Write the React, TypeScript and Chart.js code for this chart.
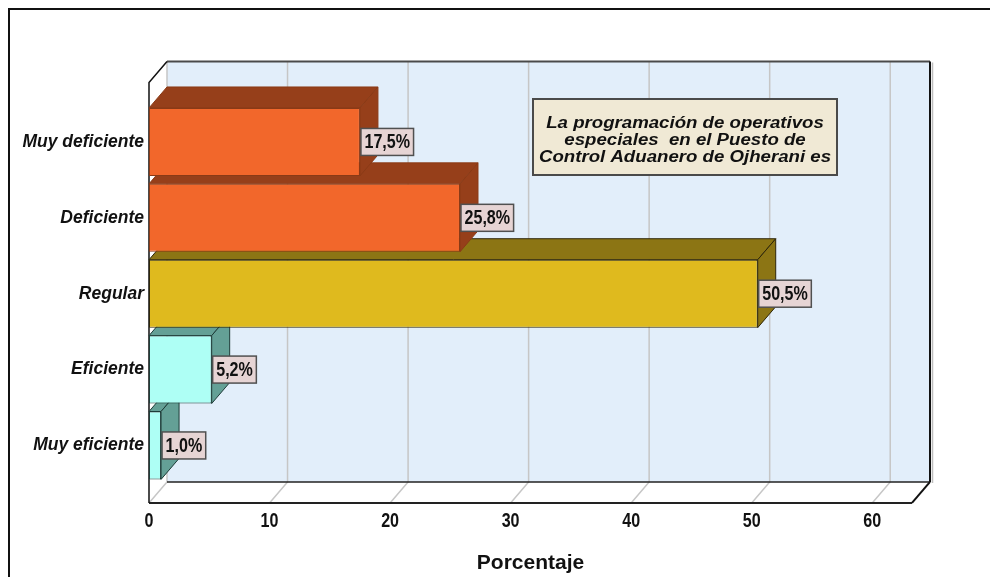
import { useEffect, useRef } from 'react';
import { Chart, registerables } from 'chart.js';

Chart.register(...registerables);

// Rating categories, listed top to bottom
const categories = ['Muy deficiente', 'Deficiente', 'Regular', 'Eficiente', 'Muy eficiente'];
// Share of answers for each rating (%)
const percentages = [17.5, 25.8, 50.5, 5.2, 1.0];
// Value axis ticks
const axisTicks = [0, 10, 20, 30, 40, 50, 60];
const axisMax = 63.3;

// Bar colours: front face, top/side faces, edges
const frontColors = ['#F2672B', '#F2672B', '#DFBA1E', '#AEFFF5', '#AEFFF5'];
const sideColors = ['#963F1A', '#963F1A', '#8C7514', '#64A096', '#64A096'];
const edgeColors = ['#8A3A16', '#8A3A16', '#2E2608', '#1E3C38', '#1E3C38'];

// Caption shown inside the plot
const noteLines = [
  'La programación de operativos',
  'especiales  en el Puesto de',
  'Control Aduanero de Ojherani es',
];

// 3D depth of the box and extra wall height around the category bands
const DX = 18;
const DY = 21;
const WALL_TOP = 21.5;
const WALL_BOTTOM = 19.5;

const SANS = '"Liberation Sans", Arial, sans-serif';
const SQUEEZE = 0.825; // condensed lettering for numbers
const NUM_FONT = `bold 19.5px ${SANS}`;

const pctLabel = (v: number) => v.toFixed(1).replace('.', ',') + '%';

type Pt = [number, number];

function poly(ctx: CanvasRenderingContext2D, pts: Pt[], fill?: string, stroke?: string, lw = 1) {
  ctx.beginPath();
  ctx.moveTo(pts[0][0], pts[0][1]);
  for (let i = 1; i < pts.length; i++) ctx.lineTo(pts[i][0], pts[i][1]);
  ctx.closePath();
  if (fill) {
    ctx.fillStyle = fill;
    ctx.fill();
  }
  if (stroke) {
    ctx.strokeStyle = stroke;
    ctx.lineWidth = lw;
    ctx.lineJoin = 'miter';
    ctx.stroke();
  }
}

function line(ctx: CanvasRenderingContext2D, pts: Pt[], color: string, lw: number) {
  ctx.beginPath();
  ctx.moveTo(pts[0][0], pts[0][1]);
  for (let i = 1; i < pts.length; i++) ctx.lineTo(pts[i][0], pts[i][1]);
  ctx.strokeStyle = color;
  ctx.lineWidth = lw;
  ctx.stroke();
}

function narrowText(ctx: CanvasRenderingContext2D, text: string, x: number, y: number) {
  ctx.save();
  ctx.translate(x, y);
  ctx.scale(SQUEEZE, 1);
  ctx.fillText(text, 0, 0);
  ctx.restore();
}

const box3d = {
  id: 'box3d',
  beforeDraw(chart: any) {
    const ctx: CanvasRenderingContext2D = chart.ctx;
    ctx.save();
    ctx.fillStyle = '#FFFFFF';
    ctx.fillRect(0, 0, chart.width, chart.height);
    // outer frame
    line(ctx, [[9, chart.height], [9, 9], [chart.width, 9]], '#111111', 2);
    ctx.restore();
  },
  beforeDatasetsDraw(chart: any) {
    const ctx: CanvasRenderingContext2D = chart.ctx;
    const a = chart.chartArea;
    const xs = chart.scales.x;
    const fl = a.left, fr = a.right, ft = a.top - WALL_TOP, fb = a.bottom + WALL_BOTTOM;
    const bl = fl + DX, br = fr + DX, bt = ft - DY, bb = fb - DY;
    ctx.save();

    // back wall
    ctx.fillStyle = '#E2EEFA';
    ctx.fillRect(bl, bt, br - bl, bb - bt);
    // floor and left wall
    poly(ctx, [[fl, fb], [bl, bb], [br, bb], [fr, fb]], '#FFFFFF');
    poly(ctx, [[fl, ft], [bl, bt], [bl, bb], [fl, fb]], '#FFFFFF');

    // grid lines on the back wall, folding down across the floor
    for (const v of axisTicks) {
      const px = xs.getPixelForValue(v);
      line(ctx, [[px + DX, bt], [px + DX, bb], [px, fb]], '#C6C6C6', 1.5);
    }

    // box edges
    line(ctx, [[bl, bt], [br, bt]], '#4A4A4A', 2);
    line(ctx, [[br + 2.5, bt + 1], [br + 2.5, bb + 1]], '#BDBDBD', 1.5);
    line(ctx, [[br, bt], [br, bb]], '#111111', 2);
    line(ctx, [[bl, bb], [br, bb]], '#222222', 1.5);
    line(ctx, [[fl, fb], [fr, fb]], '#222222', 2);
    line(ctx, [[br, bb], [fr, fb]], '#111111', 2);
    line(ctx, [[fl, fb], [fl, ft], [bl, bt]], '#111111', 1.5);

    // value axis numbers under the floor
    ctx.font = NUM_FONT;
    ctx.fillStyle = '#111111';
    ctx.textAlign = 'center';
    ctx.textBaseline = 'middle';
    for (const t of xs.ticks) {
      narrowText(ctx, String(t.value), xs.getPixelForValue(t.value), 522);
    }

    // top and right faces of every bar, back rows first
    const meta = chart.getDatasetMeta(0);
    for (let i = meta.data.length - 1; i >= 0; i--) {
      const p = meta.data[i].getProps(['x', 'y', 'base', 'height'], true);
      const top = p.y - p.height / 2;
      const bottom = p.y + p.height / 2;
      const x0 = p.base;
      const x1 = p.x;
      poly(ctx, [[x0, top], [x0 + DX, top - DY], [x1 + DX, top - DY], [x1, top]], sideColors[i], edgeColors[i], 1);
      poly(ctx, [[x1, top], [x1 + DX, top - DY], [x1 + DX, bottom - DY], [x1, bottom]], sideColors[i], edgeColors[i], 1);
    }
    ctx.restore();
  },
  afterDatasetsDraw(chart: any) {
    const ctx: CanvasRenderingContext2D = chart.ctx;
    const meta = chart.getDatasetMeta(0);
    ctx.save();
    ctx.font = NUM_FONT;
    ctx.textBaseline = 'middle';
    ctx.textAlign = 'center';
    meta.data.forEach((bar: any, i: number) => {
      const p = bar.getProps(['x', 'y'], true);
      const text = pctLabel(percentages[i]);
      const w = ctx.measureText(text).width * SQUEEZE + 7;
      const h = 27;
      const left = p.x + 1;
      const top = p.y - h / 2;
      ctx.fillStyle = '#E6D4D4';
      ctx.fillRect(left, top, w, h);
      ctx.strokeStyle = '#505050';
      ctx.lineWidth = 1.5;
      ctx.strokeRect(left, top, w, h);
      ctx.fillStyle = '#111111';
      narrowText(ctx, text, left + w / 2, p.y + 1);
    });
    ctx.restore();
  },
  afterDraw(chart: any) {
    const ctx: CanvasRenderingContext2D = chart.ctx;
    ctx.save();
    const left = 533, top = 99, w = 304, h = 76;
    ctx.fillStyle = '#F0E9D5';
    ctx.fillRect(left, top, w, h);
    ctx.strokeStyle = '#4A4A4A';
    ctx.lineWidth = 2;
    ctx.strokeRect(left, top, w, h);
    ctx.fillStyle = '#111111';
    ctx.font = `italic bold 16px ${SANS}`;
    ctx.textAlign = 'center';
    ctx.textBaseline = 'alphabetic';
    const cx = left + w / 2;
    noteLines.forEach((t, i) => {
      ctx.save();
      ctx.translate(cx, 127.5 + i * 17);
      ctx.scale(1.165, 1);
      ctx.fillText(t, 0, 0);
      ctx.restore();
    });
    ctx.restore();
  },
};

export default function App() {
  const canvasRef = useRef<HTMLCanvasElement | null>(null);

  useEffect(() => {
    const canvas = canvasRef.current;
    if (!canvas) return;
    const chart = new Chart(canvas, {
      type: 'bar',
      data: {
        labels: categories,
        datasets: [
          {
            data: percentages,
            backgroundColor: frontColors,
            borderColor: edgeColors,
            borderWidth: 1,
            borderSkipped: false,
            barPercentage: 0.895,
            categoryPercentage: 1,
          },
        ],
      },
      options: {
        indexAxis: 'y',
        responsive: false,
        animation: false,
        events: [],
        layout: { padding: { top: 104, right: 78, bottom: 0, left: 0 } },
        plugins: {
          legend: { display: false },
          title: { display: false },
          tooltip: { enabled: false },
        },
        scales: {
          y: {
            type: 'category',
            grid: { display: false, drawTicks: false },
            border: { display: false },
            ticks: {
              color: '#111111',
              padding: 5,
              font: { family: SANS, size: 17.5, weight: 'bold', style: 'italic' },
            },
            afterFit: (scale: any) => {
              scale.width = 149;
            },
          },
          x: {
            type: 'linear',
            min: 0,
            max: axisMax,
            grid: { display: false, drawTicks: false },
            border: { display: false },
            ticks: {
              stepSize: 10,
              includeBounds: false,
              // numbers are lettered by the box3d plugin in a condensed face
              color: 'rgba(0,0,0,0)',
              padding: 28,
              font: { family: SANS, size: 17, weight: 'bold' },
            },
            title: {
              display: true,
              text: 'Porcentaje',
              color: '#111111',
              padding: { top: 0, bottom: 1 },
              font: { family: SANS, size: 21, weight: 'bold' },
            },
            afterFit: (scale: any) => {
              scale.height = 93.6;
            },
          },
        },
      },
      plugins: [box3d],
    });
    return () => chart.destroy();
  }, []);

  return (
    <div style={{ position: 'fixed', left: 0, top: 0, width: 990, height: 577, background: '#FFFFFF' }}>
      <canvas ref={canvasRef} width={990} height={577} style={{ display: 'block' }} />
    </div>
  );
}
